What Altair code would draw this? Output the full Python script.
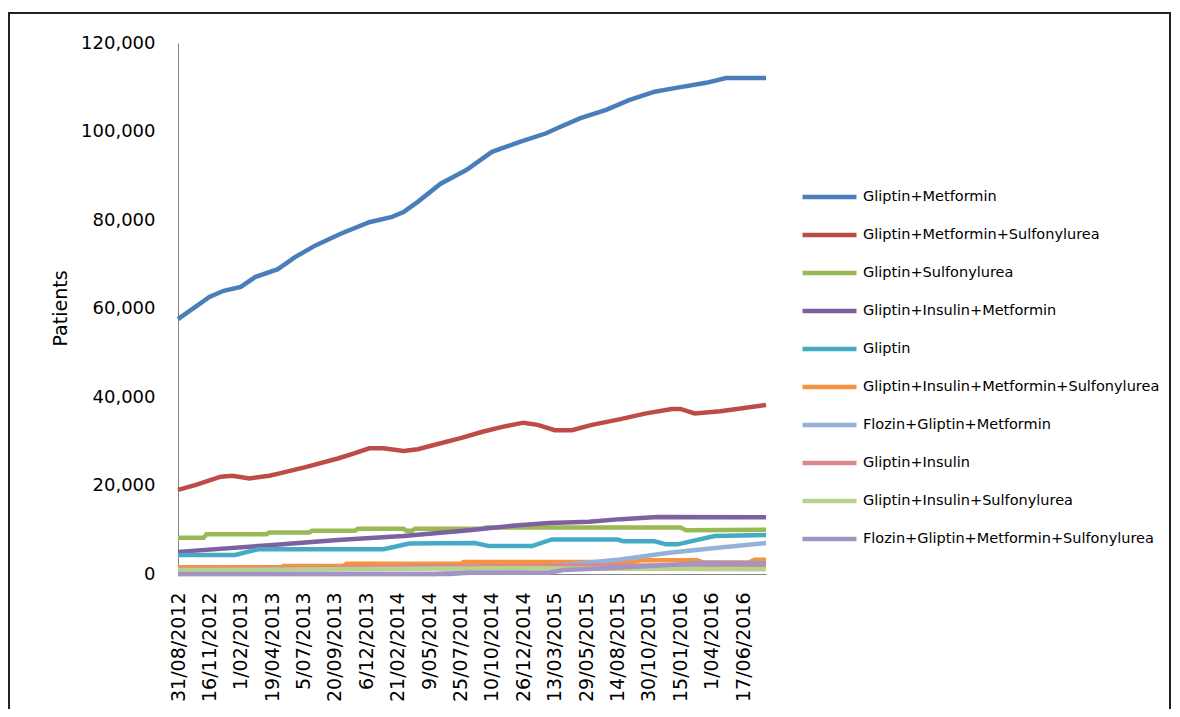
import altair as alt
import pandas as pd

# legend order = drawing order (Excel series 1..10)
series = [
    "Gliptin+Metformin",
    "Gliptin+Metformin+Sulfonylurea",
    "Gliptin+Sulfonylurea",
    "Gliptin+Insulin+Metformin",
    "Gliptin",
    "Gliptin+Insulin+Metformin+Sulfonylurea",
    "Flozin+Gliptin+Metformin",
    "Gliptin+Insulin",
    "Gliptin+Insulin+Sulfonylurea",
    "Flozin+Gliptin+Metformin+Sulfonylurea",
]
colors = ["#4A7EBB", "#BE4B48", "#98B954", "#7D60A0", "#46AAC5",
          "#F69240", "#94B1D9", "#D8898D", "#B9D18F", "#A294C4"]

# x axis tick labels (every 11 weeks) and first / last week of the data
tick_dates = ["2012-08-31", "2012-11-16", "2013-02-01", "2013-04-19", "2013-07-05",
              "2013-09-20", "2013-12-06", "2014-02-21", "2014-05-09", "2014-07-25",
              "2014-10-10", "2014-12-26", "2015-03-13", "2015-05-29", "2015-08-14",
              "2015-10-30", "2016-01-15", "2016-04-01", "2016-06-17"]
first_week = "2012-08-31"
last_week = "2016-08-12"
y_ticks = [0, 20000, 40000, 60000, 80000, 100000, 120000]

# values: week number (from 31/08/2012) and patients
gm_weeks = [0, 11, 16, 22, 27, 35, 41, 48, 57, 67, 75, 79, 84, 92, 101, 110, 120,
            129, 133, 141, 150, 158, 167, 174, 185, 192, 206]
gm_vals = [57600, 62600, 64000, 64900, 67100, 68900, 71600, 74200, 76900, 79500,
           80700, 81800, 84100, 88200, 91300, 95400, 97700, 99600, 100800, 103000,
           104900, 107100, 109000, 109800, 111000, 112100, 112100]

gms_weeks = [0, 6, 15, 19, 25, 32, 36, 45, 56, 62, 67, 72, 79, 84, 90, 99, 107, 114,
             121, 126, 132, 138, 145, 155, 164, 173, 176, 181, 190, 197, 206]
gms_vals = [19000, 20100, 22000, 22200, 21600, 22200, 22800, 24200, 26100, 27300,
            28400, 28400, 27800, 28200, 29200, 30700, 32200, 33300, 34200, 33700,
            32500, 32500, 33700, 35000, 36300, 37300, 37300, 36300, 36800, 37400, 38200]

gs_weeks = [0, 9, 10, 31, 32, 46, 47, 62, 63, 79, 80, 82, 83, 106, 108, 176, 178, 206]
gs_vals = [8200, 8200, 9000, 9000, 9400, 9400, 9800, 9800, 10200, 10200, 9800, 9800,
           10200, 10200, 10500, 10500, 9900, 10000]

gim_weeks = [0, 32, 56, 79, 102, 117, 130, 144, 155, 168, 206]
gim_vals = [5000, 6500, 7700, 8600, 9900, 10900, 11500, 11800, 12400, 12900, 12800]

g_weeks = [0, 20, 28, 72, 81, 104, 109, 124, 131, 154, 156, 167, 171, 175, 188, 206]
g_vals = [4300, 4300, 5600, 5600, 6900, 7000, 6300, 6300, 7800, 7800, 7400, 7400,
          6700, 6700, 8600, 8800]

gims_weeks = [0, 36, 37, 58, 59, 99, 100, 160, 162, 182, 184, 200, 202, 206]
gims_vals = [1500, 1500, 1800, 1800, 2300, 2300, 2700, 2700, 3100, 3100, 2600, 2600,
             3200, 3200]

fgm_weeks = [0, 90, 105, 122, 138, 155, 172, 190, 206]
fgm_vals = [0, 0, 600, 1300, 2200, 3300, 4800, 6000, 7000]

gi_weeks = [0, 50, 85, 130, 170, 206]
gi_vals = [1100, 1300, 1700, 1800, 1900, 2000]

gis_weeks = [0, 40, 80, 120, 160, 206]
gis_vals = [900, 1000, 1200, 1300, 1200, 1100]

fgms_weeks = [0, 95, 102, 130, 135, 150, 170, 184, 206]
fgms_vals = [0, 0, 300, 300, 900, 1300, 2000, 2500, 2400]

all_weeks = [gm_weeks, gms_weeks, gs_weeks, gim_weeks, g_weeks,
             gims_weeks, fgm_weeks, gi_weeks, gis_weeks, fgms_weeks]
all_vals = [gm_vals, gms_vals, gs_vals, gim_vals, g_vals,
            gims_vals, fgm_vals, gi_vals, gis_vals, fgms_vals]


def to_ms(d):
    return int(pd.Timestamp(d, tz="UTC").value // 10**6)


start = pd.Timestamp(first_week, tz="UTC")
rows = []
for name, wks, vals in zip(series, all_weeks, all_vals):
    for w, v in zip(wks, vals):
        t = int((start + pd.Timedelta(weeks=w)).value // 10**6)
        rows.append({"series": name, "t": t, "patients": v})
df = pd.DataFrame(rows)

font = "DejaVu Sans"

lines = alt.Chart(df).mark_line(strokeWidth=4.5).encode(
    x=alt.X("t:T",
            scale=alt.Scale(type="utc", domain=[to_ms(first_week), to_ms(last_week)], nice=False),
            axis=alt.Axis(values=[to_ms(d) for d in tick_dates], format="%-d/%m/%Y",
                          labelAngle=-90, labelPadding=18, ticks=False, grid=False,
                          labelOverlap=False, labelFont=font, labelFontSize=19,
                          labelColor="black", domainColor="#868686"),
            title=None),
    y=alt.Y("patients:Q",
            scale=alt.Scale(domain=[0, 120000], nice=False),
            axis=alt.Axis(values=y_ticks, format=",.0f", ticks=False, grid=False,
                          labelPadding=23, labelFont=font, labelFontSize=18,
                          labelColor="black", domainColor="#868686",
                          titleX=-118, titleY=265, titleAngle=-90, titleAlign="center",
                          titleBaseline="middle", titleFont=font, titleFontSize=19,
                          titleFontWeight="normal", titleColor="black"),
            title="Patients"),
    color=alt.Color("series:N",
                    scale=alt.Scale(domain=series, range=colors),
                    legend=alt.Legend(title=None, orient="none", legendX=622, legendY=145,
                                      symbolType="stroke", symbolSize=2916,
                                      symbolStrokeWidth=4.5, labelFont=font,
                                      labelFontSize=14.5, labelColor="black",
                                      labelOffset=4, labelLimit=400,
                                      clipHeight=18, rowPadding=20)),
)

# outer frame around the whole chart
frame = alt.Chart(pd.DataFrame({"k": [0]})).mark_rect(
    fillOpacity=0, stroke="#222", strokeWidth=2
).encode(x=alt.value(-169), x2=alt.value(992), y=alt.value(-30), y2=alt.value(700))

chart = alt.layer(lines, frame).properties(
    width=588, height=531,
    autosize=alt.AutoSizeParams(type="none"),
    padding={"left": 170, "top": 35, "right": 406, "bottom": 135},
).configure_view(strokeWidth=0)

chart.save("out.html", embed_options={"renderer": "svg", "actions": False})
